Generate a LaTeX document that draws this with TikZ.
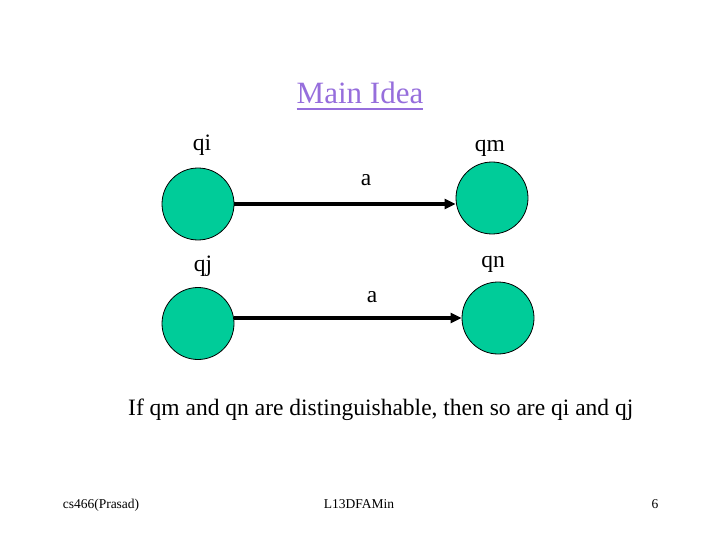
\documentclass[tikz,border=0pt]{standalone}
\usepackage{fontspec}
\setmainfont{Liberation Serif}
\usepackage{tikz}
\usetikzlibrary{arrows.meta,positioning}
\usepackage{xcolor}
\definecolor{stateGreen}{RGB}{0,204,153}
\definecolor{titlePurple}{RGB}{150,110,220}

\begin{document}
\begin{tikzpicture}[
  x=1pt, y=-1pt,
  state/.style={circle, draw=black, line width=0.8pt, fill=stateGreen,
                minimum size=72pt, inner sep=0pt},
  lbl/.style={inner sep=0pt, font=\fontsize{23.5}{28}\selectfont},
  foot/.style={inner sep=0pt, anchor=base, font=\fontsize{13.5}{16}\selectfont},
  arr/.style={-{Triangle[length=11pt,width=10pt]}, line width=4pt},
  node distance=12pt
]
  \useasboundingbox (0,0) rectangle (720,540);

  % title
  \node[inner sep=0pt, anchor=base, text=titlePurple,
        font=\fontsize{31}{36}\selectfont] (title) at (360,104) {Main Idea};
  \draw[titlePurple, line width=1.6pt]
    ([yshift=-5pt]title.base west) -- ([yshift=-5pt]title.base east);

  % states
  \node[state] (qi) at (198,204) {};
  \node[state] (qm) at (492,198) {};
  \node[state] (qj) at (198,323.5) {};
  \node[state] (qn) at (498,318) {};

  \node[lbl, above=12pt of qi, xshift=4pt]  (qiL) {qi};
  \node[lbl, above=5pt of qm, xshift=-2pt]  (qmL) {qm};
  \node[lbl, above=10pt of qj, xshift=5pt]  (qjL) {qj};
  \node[lbl, above=9pt of qn, xshift=-5pt]  (qnL) {qn};

  % transitions on a
  \draw[arr] (qi.east) -- (qi.east -| qm.west);
  \draw[arr] (qn.west -| qj.east) -- (qn.west);
  \node[lbl, anchor=base] (a1) at (366,186) {a};
  \node[lbl, anchor=base] (a2) at (372,302) {a};

  \node[lbl, anchor=base west] (claim) at (128,415)
    {If qm and qn are distinguishable, then so are qi and qj};

  % footer
  \node[foot] (fl) at (101,508) {cs466(Prasad)};
  \node[foot] (fc) at (359,508) {L13DFAMin};
  \node[foot] (fr) at (655,508) {6};
\end{tikzpicture}
\end{document}
